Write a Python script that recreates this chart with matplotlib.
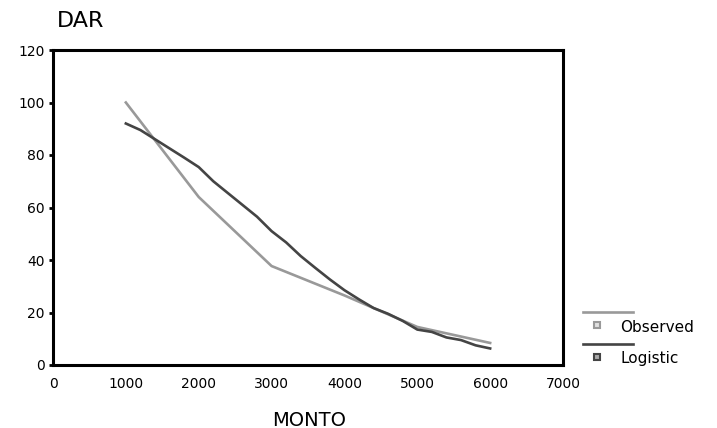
import matplotlib
matplotlib.use("Agg")
import matplotlib.pyplot as plt

plt.rcParams['font.family'] = ['DejaVu Sans']

# observed values
obs_x = [1000, 2000, 3000, 4000, 5000, 6000]
obs_y = [100, 64, 37.7, 26.5, 14.5, 8.4]

# logistic fit
log_x = [1000, 1200, 1400, 1600, 1800, 2000, 2200, 2400, 2600, 2800, 3000,
         3200, 3400, 3600, 3800, 4000, 4200, 4400, 4600, 4800, 5000,
         5200, 5400, 5600, 5800, 6000]
log_y = [92, 89.5, 86, 82.5, 79, 75.4, 70, 65.5, 61, 56.5, 51,
         46.7, 41.5, 37, 32.6, 28.5, 25, 21.7, 19.5, 16.8, 13.5,
         12.6, 10.5, 9.5, 7.5, 6.3]

x_ticks = [0, 1000, 2000, 3000, 4000, 5000, 6000, 7000]
y_ticks = [0, 20, 40, 60, 80, 100, 120]
labels = ['Observed', 'Logistic']

c_obs = '#999999'
c_log = '#444444'

W, H = 717, 428
fig = plt.figure(figsize=(W/100, H/100), dpi=100)
# axes box in pixels: left 53, right 563, top 50, bottom 365
ax = fig.add_axes([53/W, 1 - 365/H, (563-53)/W, (365-50)/H])

ax.plot(obs_x, obs_y, color=c_obs, lw=1.9)
ax.plot(log_x, log_y, color=c_log, lw=1.9)

ax.set_xlim(0, 7000)
ax.set_ylim(0, 120)
ax.set_xticks(x_ticks)
ax.set_yticks(y_ticks)
ax.tick_params(axis='x', length=0, pad=9, labelsize=10)
ax.tick_params(axis='y', length=3, width=2, pad=3, labelsize=10)
for s in ax.spines.values():
    s.set_linewidth(2.2)

# overlay in pixel coordinates for titles and the hand-made legend
ov = fig.add_axes([0, 0, 1, 1], facecolor='none')
ov.set_xlim(0, W)
ov.set_ylim(H, 0)
ov.axis('off')

ov.text(57, 21, 'DAR', fontsize=16, va='center', ha='left')
ov.text(309, 420, 'MONTO', fontsize=14, va='center', ha='center')

for i, (lbl, c, fill) in enumerate([(labels[0], c_obs, '#e0e0e0'),
                                     (labels[1], c_log, '#aaaaaa')]):
    y0 = 312 + i * 32
    ov.plot([583, 633], [y0, y0], color=c, lw=1.9)
    ov.plot([597], [y0 + 13], marker='s', markersize=5, color=c,
            markerfacecolor=fill, markeredgewidth=1.5)
    ov.text(620, y0 + 15, lbl, fontsize=11, va='center', ha='left')

fig.savefig('out.png', dpi=100)
